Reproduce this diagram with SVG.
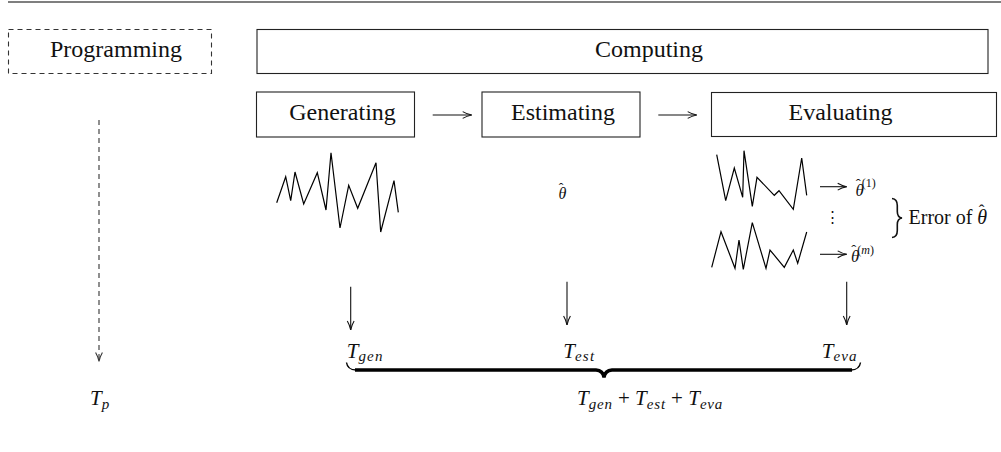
<svg xmlns="http://www.w3.org/2000/svg" width="1001" height="452" viewBox="0 0 1001 452">
  <style>
    .box { fill: none; stroke: #222; stroke-width: 1.1; }
    .dash { fill: none; stroke: #333; stroke-width: 1.1; stroke-dasharray: 5 4; }
    .lbl { font-family: "Liberation Serif", "DejaVu Serif", "Times New Roman", serif; font-size: 24px; fill: #111; text-anchor: middle; }
    .math { font-family: "Liberation Serif", "DejaVu Serif", "Times New Roman", serif; font-style: italic; fill: #111; }
    .rm { font-family: "Liberation Serif", "DejaVu Serif", "Times New Roman", serif; fill: #111; }
    .up { font-style: normal; }
    .conn { fill: none; stroke: #111; stroke-width: 1.1; }
    .zig { fill: none; stroke: #000; stroke-width: 1.2; stroke-linejoin: miter; }
  </style>
  <defs>
    <marker id="tip" markerUnits="userSpaceOnUse" markerWidth="14" markerHeight="10" refX="0" refY="0" viewBox="-11 -5 14 10" orient="auto" overflow="visible">
      <path d="M-9,-3.4 C-6,-1.6 -2,-0.4 0,0 C-2,0.4 -6,1.6 -9,3.4" fill="none" stroke="#111" stroke-width="1.1"/>
    </marker>
    <marker id="tipg" markerUnits="userSpaceOnUse" markerWidth="14" markerHeight="10" refX="0" refY="0" viewBox="-11 -5 14 10" orient="auto" overflow="visible">
      <path d="M-9,-3.4 C-6,-1.6 -2,-0.4 0,0 C-2,0.4 -6,1.6 -9,3.4" fill="none" stroke="#333" stroke-width="1.1"/>
    </marker>
  </defs>

  <!-- top rule -->
  <line x1="8" y1="2" x2="1001" y2="2" stroke="#555" stroke-width="1.3"/>

  <!-- stage boxes -->
  <g id="programming">
    <rect class="dash" x="8.5" y="29.5" width="203" height="44"/>
    <text class="lbl" x="116" y="57">Programming</text>
  </g>
  <g id="computing">
    <rect class="box" x="257" y="29.5" width="731" height="44"/>
    <text class="lbl" x="649" y="57">Computing</text>
  </g>
  <g id="generating">
    <rect class="box" x="256.5" y="92" width="158" height="45"/>
    <text class="lbl" x="342.5" y="120">Generating</text>
    <polyline class="zig" points="276.7,202.7 285.7,176.7 290.7,200.7 295,172 303.7,204 317.3,172.7 326,210 331,152.7 340,228 348.7,185.3 357.7,208.3 376,162.7 380.7,232 394,180.7 398.3,212.3"/>
  </g>
  <g id="estimating">
    <rect class="box" x="482" y="92" width="158" height="45"/>
    <text class="lbl" x="563" y="120">Estimating</text>
    <!-- theta with a hat accent -->
    <text class="math" x="558.5" y="199" font-size="16">θ<tspan class="up" dx="-7.5" dy="-6.5" font-size="14">ˆ</tspan></text>
  </g>
  <g id="evaluating">
    <rect class="box" x="711.5" y="92.5" width="285" height="44"/>
    <text class="lbl" x="840.5" y="120">Evaluating</text>
    <polyline class="zig" points="716.7,154.7 725.7,200.7 734.3,168 742.7,197.3 744,150.7 752.3,206.3 757,177.3 774.3,195.3 779,190.7 793.3,209.3 801.7,158 806.7,195.3"/>
    <polyline class="zig" points="711.7,267.3 721,231.7 735,268.3 739,240 743.3,269.3 752.3,222.7 766,268.3 770,250 784.3,267.3 793.3,250 797.7,263.3 806.7,232"/>
    <text class="math" x="855.5" y="195.5" font-size="17">θ<tspan class="up" dx="-8" dy="-7" font-size="15">ˆ</tspan><tspan class="up" dx="1" dy="-1.5" font-size="12">(1)</tspan></text>
    <text class="rm" x="832.5" y="222" font-size="15" text-anchor="middle">⋮</text>
    <text class="math" x="851" y="262" font-size="17">θ<tspan class="up" dx="-8" dy="-7" font-size="15">ˆ</tspan><tspan class="up" dx="1" dy="-1.5" font-size="12">(</tspan><tspan font-size="12">m</tspan><tspan class="up" font-size="12">)</tspan></text>
    <path d="M892,198.5 Q897.3,199 897.3,205.5 L897.3,211.5 Q897.3,217.3 902,218 Q897.3,218.7 897.3,224.5 L897.3,230.5 Q897.3,237 892,237.5" fill="none" stroke="#111" stroke-width="1.6"/>
    <text class="rm" x="908.5" y="223.5" font-size="20">Error of <tspan font-style="italic">θ</tspan><tspan dx="-8.5" dy="-8" font-size="17">ˆ</tspan></text>
  </g>

  <!-- time labels -->
  <g id="t-p">
    <text class="math" x="90" y="405" font-size="21">T<tspan font-size="15" dy="4">p</tspan></text>
  </g>
  <g id="t-gen">
    <text class="math" x="346.7" y="357.5" font-size="21">T<tspan font-size="15" dy="3.5" letter-spacing="1.2">gen</tspan></text>
  </g>
  <g id="t-est">
    <text class="math" x="563.3" y="357.5" font-size="21">T<tspan font-size="15" dy="3.5" letter-spacing="1.2">est</tspan></text>
  </g>
  <g id="t-eva">
    <text class="math" x="821.7" y="357.5" font-size="21">T<tspan font-size="15" dy="3.5" letter-spacing="1.2">eva</tspan></text>
  </g>
  <g id="t-sum">
    <text class="math" x="577" y="405" font-size="21">T<tspan font-size="15" dy="3.5" letter-spacing="0.8">gen</tspan><tspan class="up" dy="-3.5"> + </tspan>T<tspan font-size="15" dy="3.5" letter-spacing="0.8">est</tspan><tspan class="up" dy="-3.5"> + </tspan>T<tspan font-size="15" dy="3.5" letter-spacing="0.8">eva</tspan></text>
  </g>

  <!-- connectors -->
  <g id="connectors">
    <line class="conn" x1="432.7" y1="115" x2="471.7" y2="115" marker-end="url(#tip)"/>
    <line class="conn" x1="658.3" y1="115" x2="696.7" y2="115" marker-end="url(#tip)"/>
    <line class="conn" x1="820" y1="186.7" x2="846.7" y2="186.7" marker-end="url(#tip)"/>
    <line class="conn" x1="820" y1="254.3" x2="846.7" y2="254.3" marker-end="url(#tip)"/>
    <line class="conn" x1="350.7" y1="286.7" x2="350.7" y2="330" marker-end="url(#tip)"/>
    <line class="conn" x1="567" y1="281.7" x2="567" y2="325" marker-end="url(#tip)"/>
    <line class="conn" x1="846.7" y1="281.7" x2="846.7" y2="325" marker-end="url(#tip)"/>
    <line class="dash" x1="99" y1="120" x2="99" y2="361.5" stroke="#555" marker-end="url(#tipg)"/>
    <!-- underbrace spanning the three computing times -->
    <path d="M346.5,362.5 Q347.5,369.8 356,370" fill="none" stroke="#000" stroke-width="1.4"/>
    <path d="M355,370 L596,370 Q603,370.3 604,377.5 Q605,370.3 612,370 L852,370" fill="none" stroke="#000" stroke-width="3.4"/>
    <path d="M851,370 Q859.5,369.8 860.5,362.5" fill="none" stroke="#000" stroke-width="1.4"/>
  </g>
</svg>
